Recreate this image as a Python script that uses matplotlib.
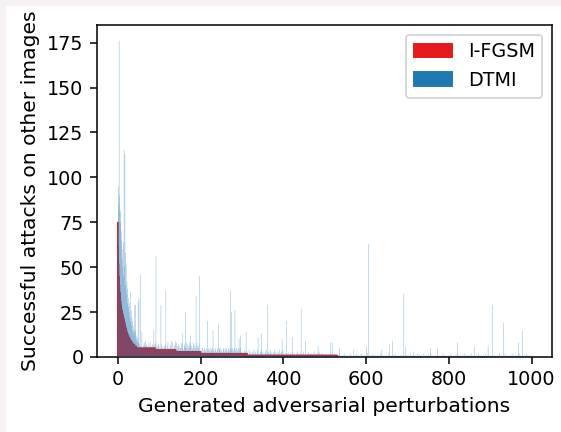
import numpy as np
import matplotlib
matplotlib.use("Agg")
import matplotlib.pyplot as plt
from matplotlib.patches import Patch, Rectangle

N = 1000

# I-FGSM (sorted, descending): head values then (value, count) runs
red_head = [75, 62, 52, 45, 40, 36, 33, 31, 29, 27, 26, 25, 24, 23, 22, 21, 20, 19, 18, 17,
            16, 15, 14, 13, 13, 12, 12, 11, 11, 10, 10, 9, 9, 9, 8, 8, 8, 7, 7, 7,
            7, 6, 6, 6, 6]
red_runs = [(5, 46), (4, 50), (3, 60), (2, 112), (1, 218), (0, 469)]

# DTMI: head values (idx 0-49), digit strings for the rest, spikes
blue_head = [70, 95, 85, 176, 90, 82, 75, 81, 70, 65, 55, 60, 50, 64, 45, 115, 50, 113, 40, 58,
             52, 35, 42, 30, 38, 28, 33, 25, 30, 22, 37, 20, 26, 18, 22, 15, 20, 14, 17, 12,
             15, 29, 12, 14, 10, 12, 9, 11, 8, 10]
blue_digits = [
    # 50-99
    "8675764586", "5475685464", "7565484637", "5465746537", "5846356475",
    # 100-199
    "4635274536", "4256374526", "4835427364", "5382546374", "5283645736",
    "2547385624", "3765483527", "4638547263", "5482736547", "2836547382",
    # 200-299
    "3142532413", "5243152342", "5143254135", "2413254132", "5413254135",
    "2413254315", "2435124531", "4253142531", "4253142531", "4253412531",
    # 300-529
    "2130214031", "2013201420", "3102130214", "0213021403", "1201320142",
    "0310213021", "4021302140", "3120132014", "2031021302", "1402130214",
    "1201120132", "0112012101", "2013101201", "1201320112", "0121012013",
    "1012011201", "3201120121", "0120131012", "0112013201", "1201210120",
    "1101201101", "2011001201", "1012011001",
    # 530-999
    "1001020010", "0010010020", "0100010010", "0020010001", "0010002001",
    "0010001002", "0001000100", "1000200010", "0010001002", "0001000100",
    "0100020001", "0001001000", "1000200010", "0001001000", "2000100010",
    "0001001000", "2000100001", "0001000200", "0010001000", "1000200010",
    "1000100020", "0010000100", "0100020001", "0000100010", "0020001000",
    "0010002000", "1000010001", "0002000100", "0010001000", "2000100001",
    "0001000200", "0100001000", "1000200010", "0001000100", "0200010000",
    "1000100020", "0010000100", "0100020001", "0000100010", "0020001000",
    "0010002000", "1000010001", "0002000100", "0010001000", "2000100001",
    "0001000200", "0100001000",
]
blue_spikes = {3: 176, 15: 115, 17: 113, 30: 36, 42: 29, 49: 31, 51: 33, 54: 46, 58: 14,
               67: 9, 79: 8, 87: 15, 92: 56, 104: 29, 116: 37, 130: 9, 140: 9, 157: 13,
               164: 25, 175: 12, 189: 34, 198: 45, 217: 20, 230: 15, 243: 18, 273: 37,
               274: 25, 283: 26, 293: 10, 296: 12, 310: 14, 339: 11, 347: 13, 361: 29,
               397: 10, 408: 20, 422: 11, 443: 27, 453: 9, 484: 6, 514: 8, 518: 8,
               536: 5, 569: 4, 601: 6, 606: 63, 637: 4, 657: 7, 664: 9, 690: 35, 695: 6,
               714: 3, 756: 5, 772: 5, 821: 8, 862: 6, 895: 6, 905: 29, 932: 19, 968: 8,
               978: 15}

labels = ["I-FGSM", "DTMI"]
xlabel = "Generated adversarial perturbations"
ylabel = "Successful attacks on other images"

red = list(red_head)
for v, c in red_runs:
    red += [v] * c
red = np.array(red[:N], dtype=float)

blue = list(blue_head) + [int(ch) for ch in "".join(blue_digits)]
blue = np.array(blue, dtype=float)
assert len(blue) == N, len(blue)
assert len(red) == N, len(red)
for k, v in blue_spikes.items():
    blue[k] = v

x = np.arange(N)

DPI = 138
fig = plt.figure(figsize=(561 / DPI, 432 / DPI), dpi=DPI)
fig.patch.set_facecolor("#f7f2f3")
fig.patches.append(Rectangle((6 / 561, 0), 1, 1 - 6 / 432, transform=fig.transFigure,
                             facecolor="white", edgecolor="none", zorder=-10))
ax = fig.add_axes([97 / 561, 1 - 357 / 432, (552 - 97) / 561, (357 - 25) / 432])

c_red = "#e41a1c"
c_blue = "#1f77b4"
rb = ax.bar(x, red, color=c_red, width=1.0, edgecolor=c_red, linewidth=0.5, zorder=2)
bb = ax.bar(x, blue, color=c_blue, width=1.0, alpha=0.6, zorder=3)
for p in list(rb) + list(bb):
    p.set_snap(False)

ax.set_xlabel(xlabel, fontsize=10.6)
ax.set_ylabel(ylabel, fontsize=10.6)
ax.set_xticks([0, 200, 400, 600, 800, 1000])
ax.set_yticks([0, 25, 50, 75, 100, 125, 150, 175])
handles = [Patch(color=c_red), Patch(color=c_blue)]
ax.legend(handles, labels, loc="upper right")

fig.savefig("out.png", dpi=DPI)
